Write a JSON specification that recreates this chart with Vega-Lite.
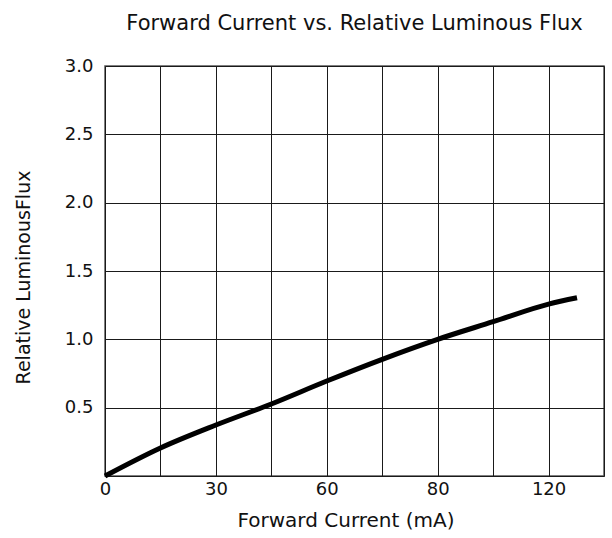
{
  "$schema": "https://vega.github.io/schema/vega-lite/v6.json",
  "width": 499,
  "height": 410,
  "autosize": {"type": "none"},
  "padding": {"left": 105, "top": 66, "right": 8, "bottom": 62},
  "background": "white",
  "title": {
    "text": "Forward Current vs. Relative Luminous Flux",
    "font": "DejaVu Sans",
    "fontSize": 21,
    "fontWeight": "normal",
    "color": "#111",
    "anchor": "middle",
    "offset": 23
  },
  "config": {
    "view": {"stroke": "#555", "strokeWidth": 1.5},
    "axis": {
      "labelFont": "DejaVu Sans",
      "labelFontSize": 18,
      "labelColor": "#111",
      "titleFont": "DejaVu Sans",
      "titleFontWeight": "normal",
      "titleColor": "#111",
      "grid": true,
      "gridColor": "#1a1a1a",
      "gridWidth": 1,
      "gridOpacity": 1,
      "ticks": false,
      "tickSize": 0,
      "domain": false
    }
  },
  "data": {
    "values": [
      {"current": 0, "flux": 0},
      {"current": 15, "flux": 0.205},
      {"current": 30, "flux": 0.373},
      {"current": 45, "flux": 0.527},
      {"current": 60, "flux": 0.695},
      {"current": 75, "flux": 0.854},
      {"current": 90, "flux": 1.0},
      {"current": 105, "flux": 1.129},
      {"current": 120, "flux": 1.258},
      {"current": 127.7, "flux": 1.304}
    ]
  },
  "mark": {"type": "line", "color": "#000", "strokeWidth": 5, "interpolate": "monotone"},
  "encoding": {
    "x": {
      "field": "current",
      "type": "quantitative",
      "scale": {"domain": [0, 135], "nice": false, "zero": false},
      "axis": {
        "values": [0, 15, 30, 45, 60, 75, 90, 105, 120, 135],
        "labelExpr": "datum.value == 90 ? '80' : (datum.value % 30 == 0 && datum.value <= 120 ? datum.label : '')",
        "labelBaseline": "middle",
        "labelPadding": 13,
        "labelFlush": false,
        "labelOverlap": false,
        "encode": {
          "labels": {
            "enter": {"dx": {"signal": "datum.value == 0 ? -1 : (datum.value == 120 ? 12 : 5)"}},
            "update": {"dx": {"signal": "datum.value == 0 ? -1 : (datum.value == 120 ? 12 : 5)"}}
          }
        },
        "title": "Forward Current (mA)",
        "titleFontSize": 20,
        "titleX": 240.5,
        "titleY": 44,
        "titleBaseline": "middle",
        "titleAlign": "center"
      }
    },
    "y": {
      "field": "flux",
      "type": "quantitative",
      "scale": {"domain": [0, 3], "nice": false},
      "axis": {
        "values": [0, 0.5, 1, 1.5, 2, 2.5, 3],
        "format": ".1f",
        "labelExpr": "datum.value == 0 ? '' : datum.label",
        "labelBaseline": "middle",
        "labelPadding": 12,
        "labelFlush": false,
        "labelOverlap": false,
        "title": "Relative LuminousFlux",
        "titleFontSize": 19,
        "titleAngle": -90,
        "titleX": -81.5,
        "titleY": 211,
        "titleBaseline": "middle",
        "titleAlign": "center"
      }
    }
  }
}
